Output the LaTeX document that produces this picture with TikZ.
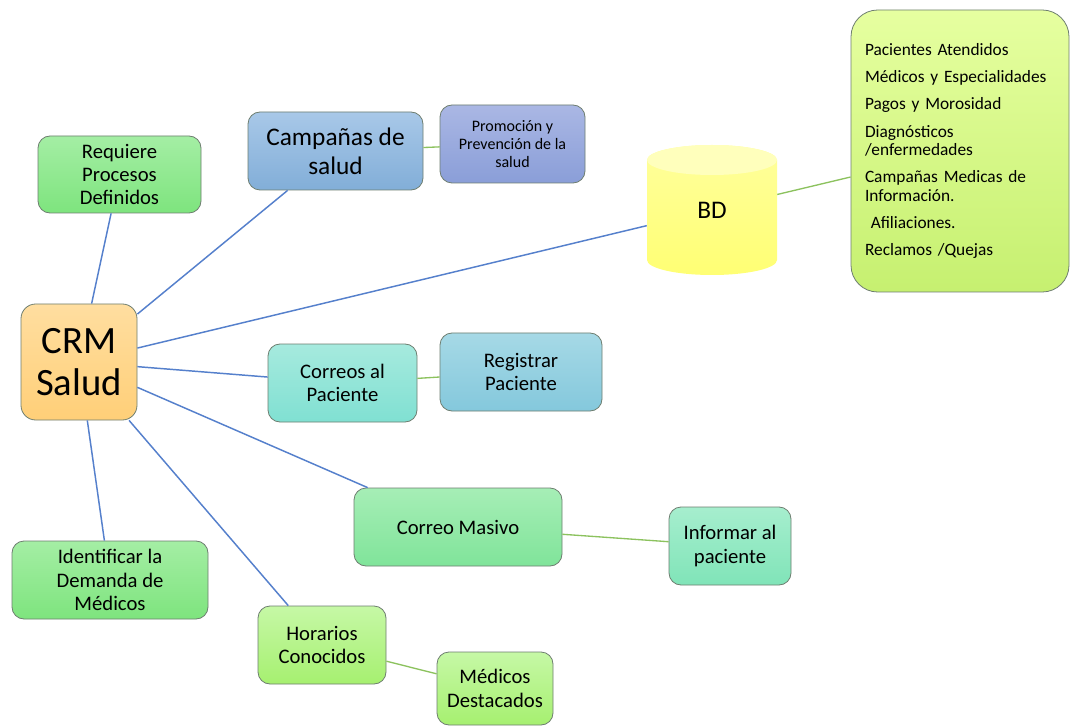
\documentclass[tikz,border=0pt]{standalone}
\usepackage{fontspec}
\setmainfont{Carlito}
\usetikzlibrary{calc}

% fills (top / bottom of each vertical gradient)
\definecolor{crmA}{HTML}{FFDEA0}\definecolor{crmB}{HTML}{FFCF78}
\definecolor{grnA}{HTML}{A4EEA4}\definecolor{grnB}{HTML}{7EE47E}
\definecolor{campA}{HTML}{A8C8E8}\definecolor{campB}{HTML}{82AED8}
\definecolor{promA}{HTML}{AAB7E4}\definecolor{promB}{HTML}{8A9ED8}
\definecolor{corA}{HTML}{A6EADE}\definecolor{corB}{HTML}{80E0D2}
\definecolor{regA}{HTML}{A6D9E6}\definecolor{regB}{HTML}{84C8DC}
\definecolor{masA}{HTML}{A6EEB6}\definecolor{masB}{HTML}{80E49A}
\definecolor{infA}{HTML}{A6EECE}\definecolor{infB}{HTML}{80E4B8}
\definecolor{limA}{HTML}{C6F8A6}\definecolor{limB}{HTML}{A6F070}
\definecolor{lstA}{HTML}{E6FFA0}\definecolor{lstB}{HTML}{C6F070}
\definecolor{cylA}{HTML}{FFFF9C}\definecolor{cylB}{HTML}{FFFF74}
\definecolor{cylTop}{HTML}{FFFFBC}
\definecolor{boxedge}{HTML}{6E7E70}
\definecolor{spoke}{HTML}{5580CC}
\definecolor{twig}{HTML}{8CC25E}

\begin{document}
\begin{tikzpicture}[x=0.75pt,y=-0.75pt,
  box/.style={draw=boxedge, line width=0.6pt, rounded corners=9pt,
    align=center, inner sep=0pt,
    font=\fontsize{15.5}{17.5}\selectfont},
  sz/.style 2 args={minimum width=#1*0.75pt, minimum height=#2*0.75pt},
  grad/.style 2 args={top color=#1, bottom color=#2},
  spokeline/.style={draw=spoke, line width=1.1pt},
  twigline/.style={draw=twig, line width=1pt}]

\useasboundingbox (0,0) rectangle (1071,727);
\fill[white] (0,0) rectangle (1071,727);

% central node
\node[box, sz={116}{116}, grad={crmA}{crmB}, rounded corners=11pt,
  font=\fontsize{29}{32}\selectfont] (crm) at (79,362) {CRM\\Salud};

% first level
\node[box, sz={163}{77}, grad={grnA}{grnB}] (req) at (119.5,174.5) {Requiere\\Procesos\\Definidos};
\node[box, sz={175}{78}, grad={campA}{campB},
  font=\fontsize{19}{21.5}\selectfont] (camp) at (335.5,151) {Campañas de\\salud};
\node[box, sz={149}{78}, grad={corA}{corB}] (corr) at (342.5,383) {Correos al\\Paciente};
\node[box, sz={208}{78}, grad={masA}{masB}] (mas) at (458,527) {Correo Masivo};
\node[box, sz={196}{78}, grad={grnA}{grnB}] (ident) at (110,580) {Identificar la\\Demanda de\\Médicos};
\node[box, sz={128}{78}, grad={limA}{limB}] (hor) at (322,645) {Horarios\\Conocidos};

% database cylinder
\path[top color=cylA, bottom color=cylB]
  (647,160) -- (647,260) arc[start angle=180, end angle=0, x radius=65, y radius=15]
  -- (777,160) arc[start angle=0, end angle=-180, x radius=65, y radius=15] -- cycle;
\fill[cylTop] (712,160) ellipse[x radius=65, y radius=15];
\node[sz={130}{130}, inner sep=0pt, font=\fontsize{19}{22}\selectfont] (bd) at (712,210) {BD};

% second level
\node[box, sz={145}{78}, grad={promA}{promB},
  font=\fontsize{12}{13.7}\selectfont] (prom) at (512.5,144) {Promoción y\\Prevención de la\\salud};
\node[box, sz={162}{78}, grad={regA}{regB}] (reg) at (521,372) {Registrar\\Paciente};
\node[box, sz={122}{78}, grad={infA}{infB}] (inf) at (730,546) {Informar al\\paciente};
\node[box, sz={116}{73}, grad={limA}{limB}] (med) at (495,688.5) {Médicos\\Destacados};
\node[box, sz={216}{282}, grad={lstA}{lstB}, rounded corners=20pt,
  align=left, text width=190*0.75pt, inner xsep=14*0.75pt,
  font=\fontsize{13}{13.8}\selectfont] (lst) at (960,151)
  {Pacientes Atendidos\\[6.6pt]
   Médicos y Especialidades\\[6.6pt]
   Pagos y Morosidad\\[6.6pt]
   Diagnósticos\\/enfermedades\\[6.6pt]
   Campañas Medicas de\\Información.\\[6.6pt]
   \ Afiliaciones.\\[6.6pt]
   Reclamos /Quejas};

% spokes from the centre
\draw[spokeline] (crm) -- (req);
\draw[spokeline] (crm) -- (camp);
\draw[spokeline] (crm) -- (bd);
\draw[spokeline] (crm) -- (corr);
\draw[spokeline] (crm) -- (mas);
\draw[spokeline] (crm) -- (hor);
\draw[spokeline] (crm) -- (ident);

% links to the second level
\draw[twigline] (camp) -- (prom);
\draw[twigline] (bd) -- (lst);
\draw[twigline] (corr) -- (reg);
\draw[twigline] (mas) -- (inf);
\draw[twigline] (hor) -- (med);
\end{tikzpicture}
\end{document}
